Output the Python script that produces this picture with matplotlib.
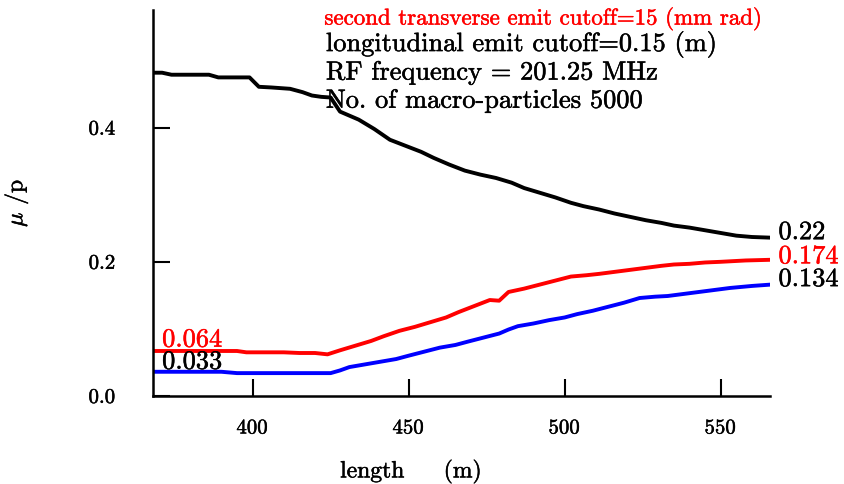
import matplotlib.pyplot as plt
import matplotlib.patheffects as pe
from matplotlib.text import Text

plt.rcParams['font.family'] = ['cmr10', 'DejaVu Serif']
plt.rcParams['mathtext.fontset'] = 'cm'
plt.rcParams['axes.formatter.use_mathtext'] = True

# curve data
length = [368, 371, 374, 386, 389, 399, 402, 406, 412, 416, 419, 422, 425, 428,
          431, 434, 439, 444, 449, 454, 458, 463, 468, 473, 478, 483, 487, 492,
          497, 502, 506, 511, 516, 521, 526, 531, 535, 540, 545, 550, 555, 560,
          566]
black = [0.482, 0.482, 0.479, 0.479, 0.475, 0.475, 0.461, 0.460, 0.458, 0.453,
         0.448, 0.446, 0.445, 0.424, 0.418, 0.412, 0.398, 0.382, 0.373, 0.364,
         0.355, 0.345, 0.336, 0.330, 0.325, 0.318, 0.310, 0.303, 0.296, 0.288,
         0.283, 0.278, 0.272, 0.267, 0.262, 0.258, 0.254, 0.251, 0.247, 0.243,
         0.239, 0.237, 0.236]

length_r = [368, 380, 395, 398, 410, 415, 420, 424, 428, 433, 438, 442, 447,
            452, 457, 462, 466, 471, 476, 479, 482, 487, 492, 497, 502, 507,
            511, 516, 521, 526, 531, 535, 540, 545, 550, 558, 566]
red = [0.067, 0.067, 0.067, 0.065, 0.065, 0.064, 0.064, 0.062, 0.068, 0.075,
       0.082, 0.089, 0.097, 0.103, 0.110, 0.117, 0.125, 0.134, 0.143, 0.142,
       0.155, 0.160, 0.166, 0.172, 0.178, 0.180, 0.182, 0.185, 0.188, 0.191,
       0.194, 0.196, 0.197, 0.199, 0.200, 0.202, 0.203]

length_b = [368, 390, 395, 410, 425, 428, 431, 436, 441, 446, 450, 455, 460,
            465, 469, 474, 479, 482, 485, 490, 495, 500, 504, 509, 514, 519,
            524, 529, 533, 538, 543, 548, 553, 560, 566]
blue = [0.036, 0.036, 0.034, 0.034, 0.034, 0.038, 0.043, 0.047, 0.051, 0.055,
        0.060, 0.066, 0.072, 0.076, 0.081, 0.087, 0.093, 0.099, 0.104, 0.108,
        0.113, 0.117, 0.122, 0.127, 0.133, 0.139, 0.146, 0.148, 0.149, 0.152,
        0.155, 0.158, 0.161, 0.164, 0.166]

info = ["longitudinal emit cutoff=0.15 (m)",
        "RF frequency = 201.25 MHz",
        "No. of macro-particles 5000"]

fig = plt.figure(figsize=(8.44, 4.84), dpi=100)
ax = fig.add_axes([0.181, 0.182, 0.731, 0.798])

ax.plot(length, black, color='black', lw=2.8)
ax.plot(length_r, red, color='red', lw=2.8)
ax.plot(length_b, blue, color='blue', lw=2.8)

ax.set_xlim(368, 565.7)
ax.set_ylim(0, 0.576)
ax.set_xticks([400, 450, 500, 550])
ax.set_yticks([0.0, 0.2, 0.4])
ax.set_yticklabels(["0.0", "0.2", "0.4"])
ax.tick_params(direction='in', length=12, width=1.5, labelsize=15)
ax.tick_params(axis='y', pad=27)
ax.tick_params(axis='x', pad=17)
for s in ['top', 'right']:
    ax.spines[s].set_visible(False)
for s in ['left', 'bottom']:
    ax.spines[s].set_linewidth(1.8)

ax.set_xlabel("length     (m)", fontsize=17)
ax.xaxis.set_label_coords(0.418, -0.163)
ax.set_ylabel(r"$\mu$ /p", fontsize=17, labelpad=42)

# end labels
ax.text(568.5, 0.244, "0.22", fontsize=19, va='center', clip_on=False)
ax.text(568.5, 0.208, "0.174", fontsize=19, va='center', color='red', clip_on=False)
ax.text(568.5, 0.174, "0.134", fontsize=19, va='center', clip_on=False)
ax.text(371, 0.066, "0.064", fontsize=19, va='bottom', color='red')
ax.text(371, 0.033, "0.033", fontsize=19, va='bottom')

ax.text(423, 0.562, "second transverse emit cutoff=15 (mm rad)", fontsize=16.5,
        color='red', va='center', style='italic')
for i, line in enumerate(info):
    ax.text(423.5, 0.524 - i * 0.042, line, fontsize=19, va='center')

# slightly heavier text, like the blurred original
for t in fig.findobj(Text):
    t.set_path_effects([pe.Stroke(linewidth=0.35, foreground=t.get_color()), pe.Normal()])

fig.savefig("out.png", dpi=100)
